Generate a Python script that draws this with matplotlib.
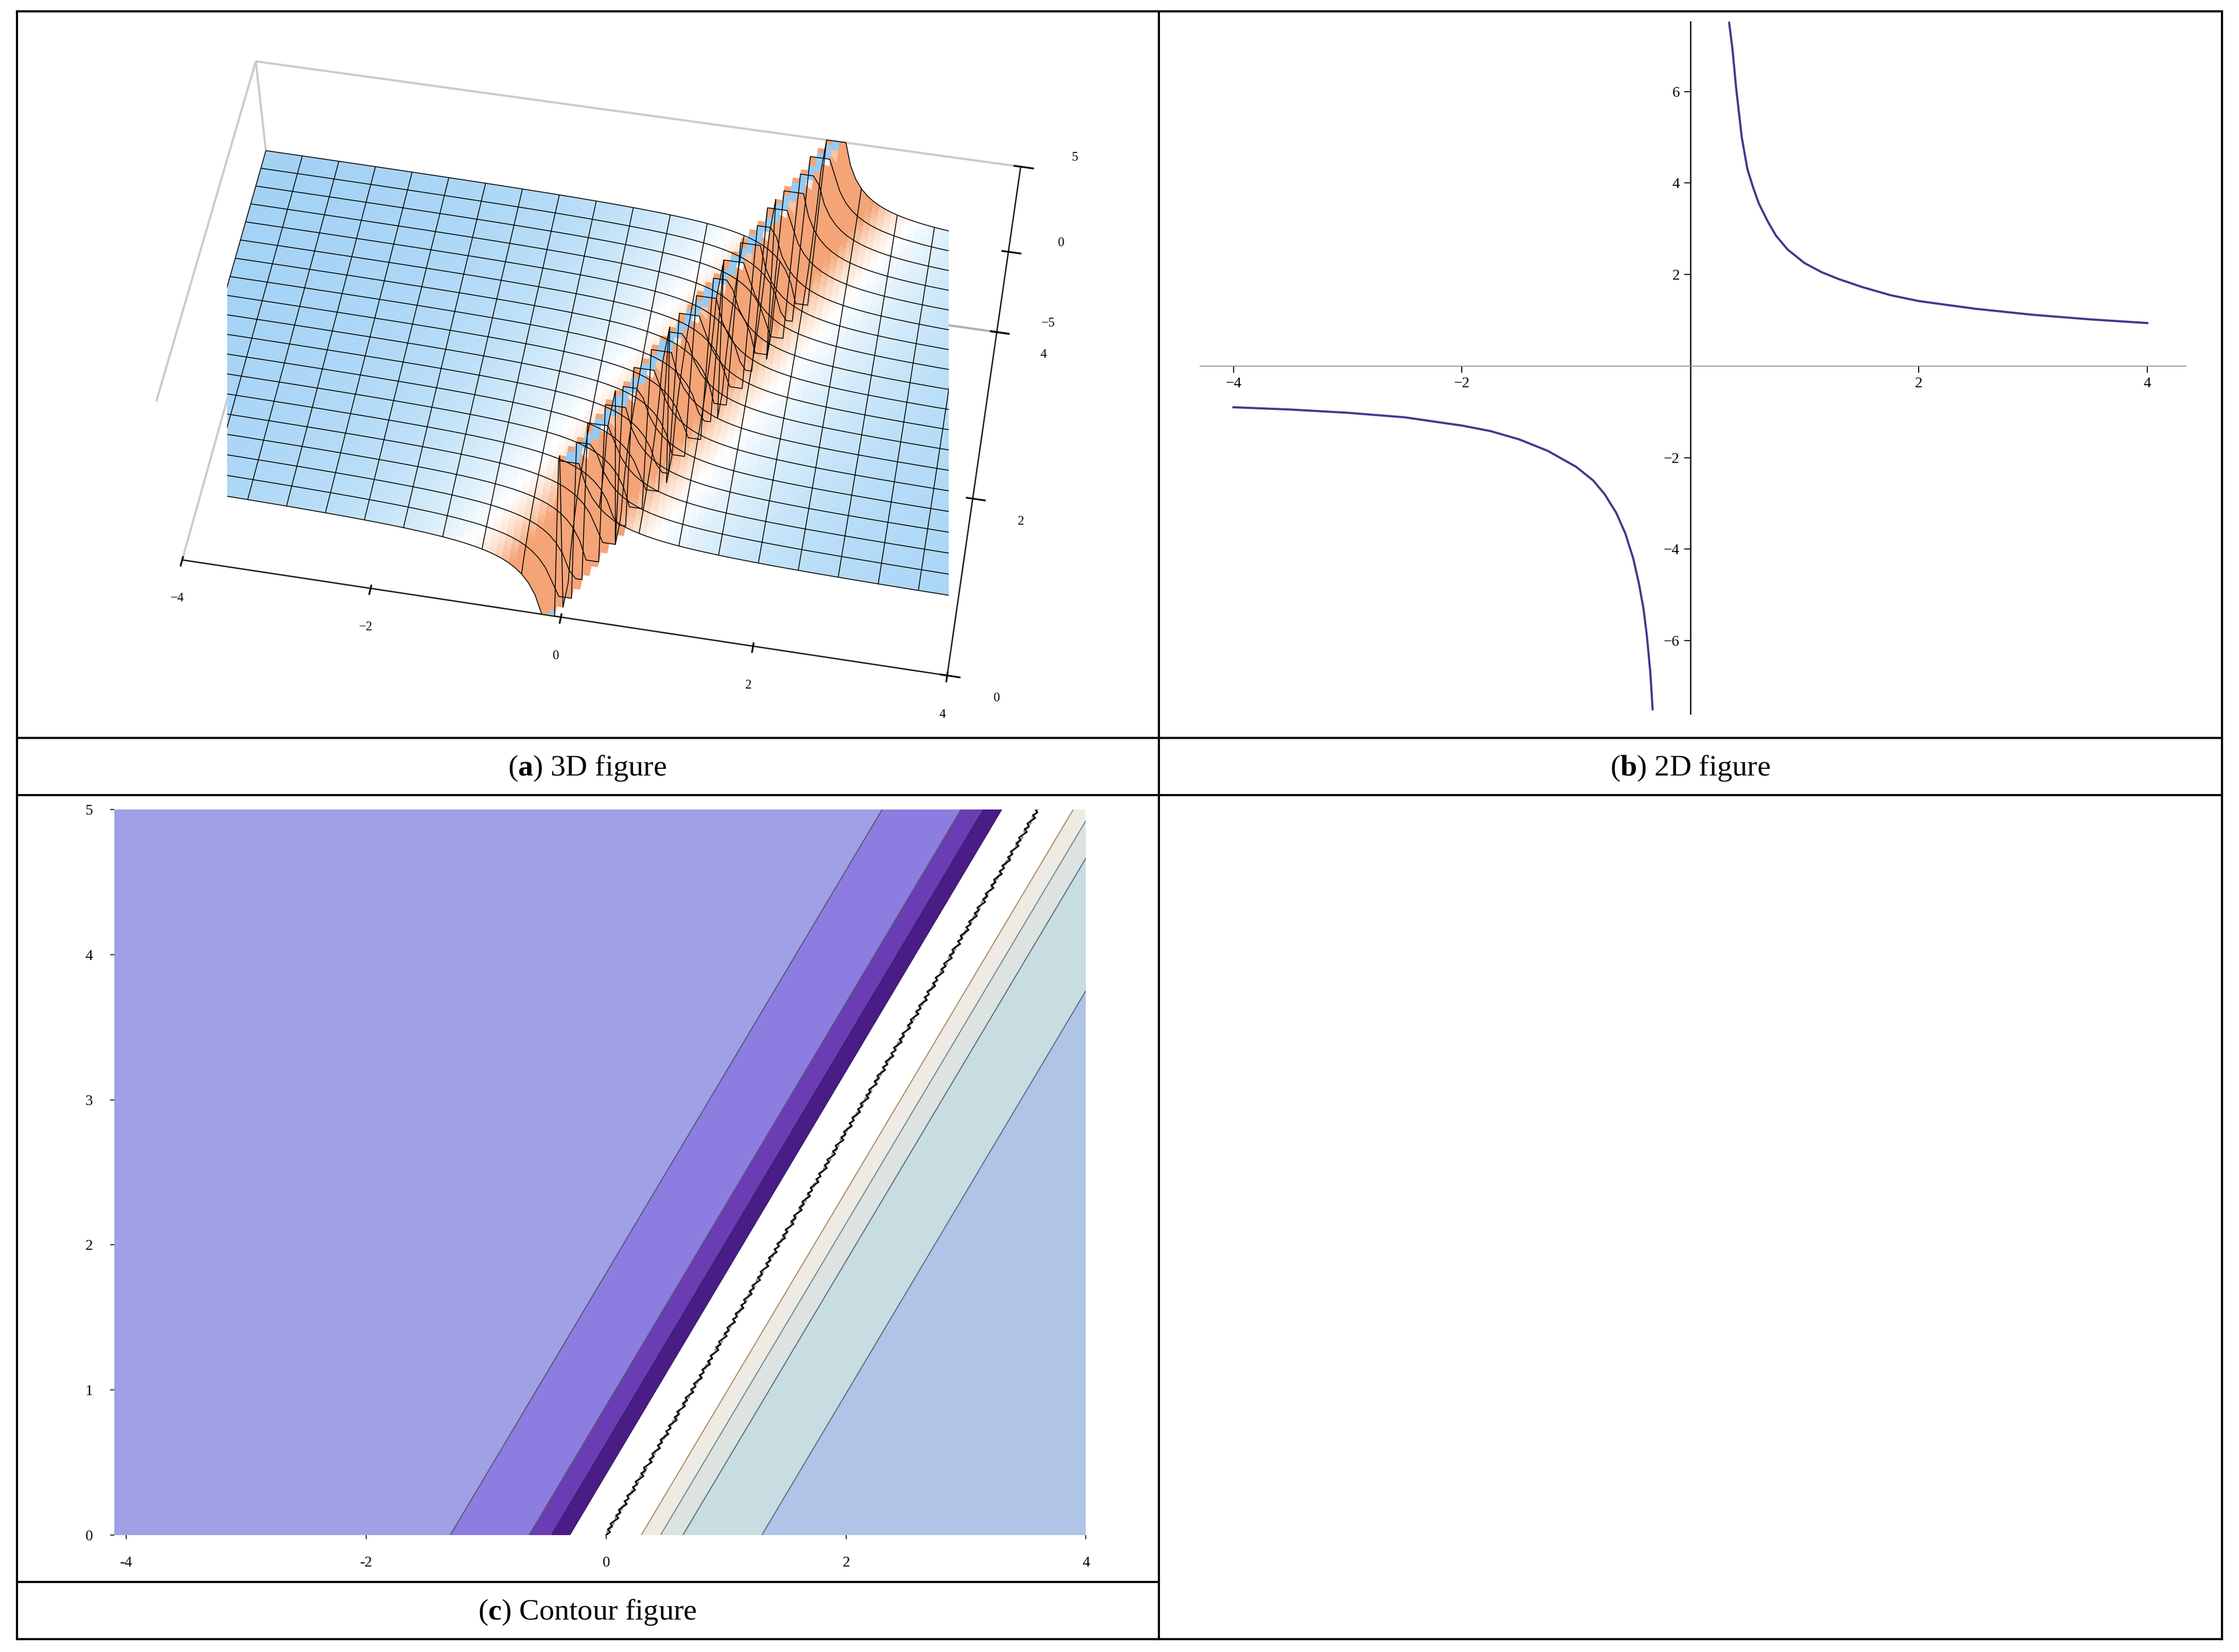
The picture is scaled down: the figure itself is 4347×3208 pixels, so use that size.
import numpy as np
import matplotlib
matplotlib.use("Agg")
import matplotlib.pyplot as plt
from matplotlib.colors import LinearSegmentedColormap
from mpl_toolkits.mplot3d import Axes3D  # noqa

plt.rcParams['mathtext.fontset'] = 'custom'
plt.rcParams['mathtext.rm'] = 'Liberation Serif'
plt.rcParams['mathtext.bf'] = 'Liberation Serif:bold'

# ---- data ----
curve_right_x = [0.34, 0.37, 0.4, 0.45, 0.5, 0.55, 0.6, 0.68, 0.75, 0.85, 1.0, 1.15, 1.3, 1.5, 1.75, 2.0, 2.5, 3.0, 3.5, 4.0]
curve_right_y = [7.5, 6.9, 6.1, 5.0, 4.3, 3.9, 3.55, 3.15, 2.85, 2.55, 2.25, 2.05, 1.9, 1.73, 1.55, 1.42, 1.25, 1.12, 1.02, 0.94]
curve_left_x = [-4.0, -3.5, -3.0, -2.5, -2.0, -1.75, -1.5, -1.25, -1.0, -0.85, -0.75, -0.65, -0.57, -0.5, -0.45, -0.41, -0.38, -0.35, -0.33]
curve_left_y = [-0.9, -0.95, -1.02, -1.12, -1.3, -1.42, -1.6, -1.85, -2.2, -2.5, -2.8, -3.2, -3.65, -4.2, -4.75, -5.3, -5.9, -6.7, -7.5]
b_xticks = [-4, -2, 2, 4]
b_yticks = [-6, -4, -2, 2, 4, 6]
c_levels = [-1e9, -3.3, -2.2, -1.56, -0.77, 0.0, 0.77, 1.56, 2.2, 3.4, 1e9]
c_colors = ['#FFFFFF', '#4A1C86', '#6A3DB5', '#8E7DE0', '#A0A0E6',
            '#B0C4E8', '#C8DDE2', '#DCE3E0', '#EEEBE4', '#FFFFFF']
c_line_colors = ['#3A2070', '#3A2070', '#555577', '#555577', '#555577',
                 '#5A6E80', '#5A6E80', '#708890', '#B08860']
c_xticks = [-4, -2, 0, 2, 4]
c_yticks = [0, 1, 2, 3, 4, 5]
slope = 0.72  # singular line x = slope*y

W, H = 1567.0, 1157.0
fig = plt.figure(figsize=(4347/300, 3208/300), dpi=300)

def fx(p): return p / W
def fy(p): return 1 - p / H

def line(x0, y0, x1, y1):
    fig.add_artist(plt.Line2D([fx(x0), fx(x1)], [fy(y0), fy(y1)], color='black', lw=1.0,
                              transform=fig.transFigure))

# table grid
line(12, 8, 1555, 8); line(12, 517, 1555, 517); line(12, 557, 1555, 557)
line(12, 1108, 811, 1108); line(12, 1148, 1555, 1148)
line(12, 8, 12, 1148); line(811, 8, 811, 1148); line(1555, 8, 1555, 1148)

capfont = dict(fontsize=14, ha='center', va='center', family='Liberation Serif')
fig.text(fx(411), fy(538), r'($\mathbf{a}$) 3D figure', **capfont)
fig.text(fx(1183), fy(538), r'($\mathbf{b}$) 2D figure', **capfont)
fig.text(fx(411), fy(1129), r'($\mathbf{c}$) Contour figure', **capfont)

tickfont = dict(fontsize=7, family='Liberation Serif')

# ---- (b) ----
axb = fig.add_axes([fx(840), fy(500), fx(1530 - 840), (500 - 15) / H])
axb.plot(curve_right_x, curve_right_y, color='#3C3C8C', lw=1.0)
axb.plot(curve_left_x, curve_left_y, color='#3C3C8C', lw=1.0)
axb.set_xlim(-4.29, 4.34)
axb.set_ylim(-7.6, 7.53)
for s in ['top', 'right']:
    axb.spines[s].set_visible(False)
axb.spines['left'].set_position(('data', 0))
axb.spines['bottom'].set_position(('data', 0))
axb.spines['left'].set_linewidth(0.6)
axb.spines['bottom'].set_linewidth(0.4)
axb.spines['bottom'].set_color('#888888')
axb.set_xticks(b_xticks)
axb.set_yticks(b_yticks)
axb.set_xticklabels([str(v).replace('-', '\u2212') for v in b_xticks], **tickfont)
axb.set_yticklabels([str(v).replace('-', '\u2212') for v in b_yticks], **tickfont)
axb.tick_params(length=3, width=0.5, pad=2)
axb.patch.set_alpha(0)

# ---- (c) ----
axc = fig.add_axes([fx(80), fy(1075), fx(760 - 80), (1075 - 567) / H])
xs = np.linspace(-4.1, 4, 800)
ys = np.linspace(0, 5, 500)
X, Y = np.meshgrid(xs, ys)
U = X - slope * Y
U[np.abs(U) < 1e-6] = 1e-6
Z = 1.0 / U
axc.contourf(X, Y, Z, levels=c_levels, colors=c_colors)
axc.contour(X, Y, Z, levels=c_levels[1:-1], colors=c_line_colors, linewidths=0.5)
yy = np.linspace(0, 5, 260)
jit = np.tile([0.0, 0.02, -0.015, 0.01, -0.02], 52)
axc.plot(slope * yy + jit, yy, color='black', lw=0.7)
axc.set_xlim(-4.1, 4)
axc.set_ylim(0, 5)
for s in axc.spines.values():
    s.set_visible(False)
axc.set_xticks(c_xticks)
axc.set_yticks(c_yticks)
axc.set_xticklabels([str(v) for v in c_xticks], **tickfont)
axc.set_yticklabels([str(v) for v in c_yticks], **tickfont)
axc.tick_params(length=2, width=0.4, pad=8)

# ---- (a) ----
axa = fig.add_axes([fx(15), fy(515), fx(808 - 15), (515 - 10) / H], projection='3d')
xg = np.linspace(-4, 4, 121)
yg = np.linspace(0, 4, 73)
XA, YA = np.meshgrid(xg, yg)
UA = XA - 0.5 * YA
UA[np.abs(UA) < 0.03] = 0.03
ZA = np.clip(1.0 / UA, -5, 5)
gy, gx = np.gradient(ZA, yg, xg)
G = np.clip(np.hypot(gx, gy) / 4.0, 0, 1) ** 0.6
cmap = LinearSegmentedColormap.from_list('m', ['#96CBF4', '#CFE9FA', '#FFFFFF', '#FBD3B8', '#F4A477'])
axa.plot_surface(XA, YA, ZA, facecolors=cmap(G), linewidth=0, rstride=1, cstride=1,
                 shade=False, antialiased=False)
axa.plot_wireframe(XA, YA, ZA, rstride=4, cstride=6, color='black', linewidth=0.4)
axa.set_xlim(-4, 4); axa.set_ylim(0, 4); axa.set_zlim(-5, 5)
axa.set_box_aspect((2.2, 1.2, 0.8), zoom=1.25)
axa.view_init(elev=55, azim=-80)
axa.set_xticks([-4, -2, 0, 2, 4]); axa.set_yticks([0, 2, 4]); axa.set_zticks([-5, 0, 5])
for lab in axa.get_xticklabels() + axa.get_yticklabels() + axa.get_zticklabels():
    lab.set_fontsize(6); lab.set_family('Liberation Serif')
axa.xaxis.pane.fill = False; axa.yaxis.pane.fill = False; axa.zaxis.pane.fill = False
for a in (axa.xaxis, axa.yaxis, axa.zaxis):
    a.pane.set_edgecolor('#999999')
    a.line.set_linewidth(0.5)
axa.grid(False)

fig.savefig('out.png', dpi=300)
